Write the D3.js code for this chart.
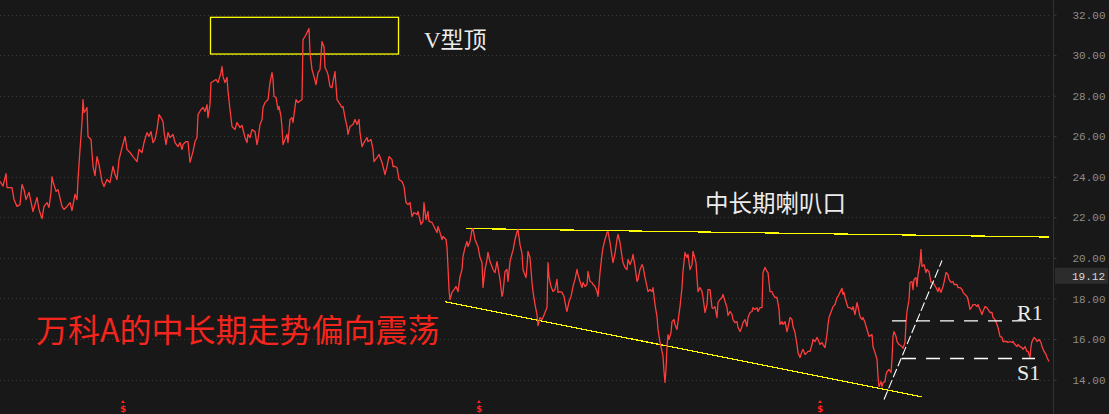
<!DOCTYPE html>
<html><head><meta charset="utf-8">
<script src="https://cdn.jsdelivr.net/npm/d3@7"></script>
<style>html,body{margin:0;padding:0;background:#181818;overflow:hidden}</style>
</head><body><svg id="c" width="1109" height="414"></svg>
<script>
// ---------- data ----------
const priceTicks = [14, 16, 18, 20, 22, 24, 26, 28, 30, 32];
const lastPrice = 19.12;
const dividendSessions = [123, 479, 820];
// [session, close]
const closeSeries = [
[0,23.78],[3,23.54],[6,24.16],[7,23.47],[12,23.47],[14,22.88],[17,22.54],[20,22.63],[22,23.62],[24,23.37],
[26,22.88],[29,23.23],[33,22.29],[37,22.98],[39,22.39],[42,21.94],[44,22.54],[47,22.73],[49,22.49],[51,23.23],
[52,24.01],[53,23.77],[56,23.28],[58,23.37],[62,22.54],[64,22.39],[67,22.54],[70,22.73],[72,22.34],[75,23.13],
[77,22.88],[78,23.87],[80,25.35],[82,26.68],[83,27.81],[84,27.17],[86,27.32],[87,27.42],[88,25.99],[91,25.84],
[93,24.51],[95,24.06],[97,25.0],[99,24.61],[102,23.77],[104,23.52],[107,23.87],[110,23.72],[113,24.51],[115,24.11],
[117,23.87],[119,24.85],[122,25.44],[125,25.99],[127,25.35],[130,25.2],[133,25.0],[137,24.75],[139,25.35],[142,25.2],
[144,25.69],[147,26.18],[149,25.99],[151,26.23],[153,25.69],[155,25.84],[157,26.33],[159,27.07],[161,26.92],[163,26.73],
[164,26.23],[166,25.59],[168,26.18],[170,25.94],[173,26.09],[175,25.69],[178,25.49],[180,25.69],[182,25.35],[183,25.59],
[186,25.74],[188,25.74],[190,24.71],[193,25.25],[195,25.74],[197,25.94],[198,27.07],[201,27.32],[203,27.42],[205,27.22],
[207,27.56],[208,26.92],[210,27.56],[211,28.65],[213,28.70],[216,28.80],[218,28.65],[221,29.14],[222,29.44],[223,28.94],
[225,28.65],[227,28.90],[228,28.21],[230,27.32],[232,26.48],[235,26.33],[237,26.68],[240,26.43],[242,26.53],[245,25.94],
[247,25.69],[248,26.09],[250,25.94],[252,26.33],[255,26.23],[257,25.59],[258,25.84],[260,26.58],[262,26.83],[263,27.42],
[265,27.66],[268,27.81],[270,28.65],[272,29.14],[273,28.80],[274,27.96],[276,27.91],[278,27.32],[279,27.47],[281,26.97],
[282,26.43],[283,25.59],[285,25.84],[287,26.09],[288,25.69],[290,26.83],[292,26.92],[293,26.68],[296,27.81],[298,27.66],
[302,27.81],[303,30.77],[305,30.92],[307,31.11],[309,31.31],[310,30.13],[312,29.29],[314,28.94],[316,28.55],[318,29.14],
[320,29.29],[322,30.67],[323,30.52],[324,30.42],[325,29.39],[327,29.19],[328,29.04],[330,28.45],[332,28.40],[333,28.70],
[335,29.19],[337,27.81],[339,27.66],[342,27.42],[343,27.47],[345,26.92],[347,26.48],[348,26.09],[350,26.48],[353,26.58],
[355,26.83],[357,26.58],[359,26.83],[360,26.18],[362,25.49],[364,25.69],[367,25.94],[368,25.74],[371,25.84],[373,25.35],
[374,24.75],[377,24.95],[379,25.10],[382,24.71],[383,24.51],[385,24.11],[387,24.51],[389,25.0],[392,24.85],[393,24.51],
[395,24.51],[397,24.46],[399,23.87],[402,23.77],[404,23.52],[406,22.73],[408,22.63],[410,22.73],[412,22.04],[414,22.24],
[417,22.14],[418,22.29],[421,21.65],[423,21.80],[424,22.73],[426,21.89],[428,22.29],[429,21.80],[432,21.75],[434,21.55],
[437,21.25],[438,21.55],[440,21.25],[442,20.91],[443,21.06],[446,20.91],[447,20.51],[448,19.53],[449,18.44],[450,17.95],
[452,18.30],[454,18.44],[456,18.59],[458,18.34],[460,19.08],[462,19.43],[463,20.07],[465,20.51],[467,20.81],[468,20.56],
[470,20.81],[472,21.40],[473,21.45],[475,20.91],[477,20.66],[478,20.56],[480,20.02],[482,19.77],[483,18.54],[485,19.43],
[487,19.92],[488,20.27],[490,19.82],[492,19.58],[493,19.43],[495,19.28],[497,19.82],[498,19.53],[500,18.94],[502,18.10],
[503,18.30],[505,19.33],[507,19.43],[508,18.84],[510,19.82],[512,20.22],[513,20.36],[515,20.91],[517,21.30],[518,21.40],
[520,20.66],[522,20.22],[523,19.43],[524,19.28],[526,19.03],[527,19.58],[528,20.32],[530,20.02],[532,18.79],[533,18.34],
[535,17.70],[537,17.21],[538,16.66],[540,17.06],[542,16.96],[543,17.06],[545,17.31],[547,17.55],[548,19.77],[549,19.08],
[551,18.59],[553,18.34],[555,18.44],[557,18.94],[558,18.30],[560,18.34],[562,18.30],[564,18.10],[566,17.55],[567,17.36],
[569,17.85],[571,18.10],[573,18.59],[575,18.94],[577,19.43],[578,19.18],[580,18.84],[582,18.54],[583,18.79],[585,18.59],
[587,18.69],[588,19.33],[590,18.84],[592,18.79],[593,18.69],[595,18.59],[597,18.34],[598,18.10],[600,19.28],[602,20.17],
[603,20.51],[605,20.91],[607,21.25],[608,21.30],[610,20.76],[612,20.07],[613,19.77],[615,20.22],[617,20.91],[618,21.16],
[620,20.76],[622,20.07],[623,19.77],[625,19.53],[627,19.43],[628,19.92],[630,19.67],[632,19.92],[633,20.17],[635,19.58],
[637,18.84],[638,18.94],[640,19.43],[642,19.67],[643,19.58],[645,19.03],[647,18.59],[648,18.34],[650,18.44],[652,18.34],
[653,18.54],[655,17.70],[657,17.11],[658,16.47],[660,15.83],[662,15.39],[663,15.14],[664,14.40],[665,13.86],[666,14.50],
[667,15.63],[668,16.22],[669,15.98],[671,16.32],[672,16.86],[674,16.96],[675,16.72],[677,16.47],[678,16.86],[680,17.60],
[682,18.54],[683,19.33],[685,20.27],[687,20.02],[688,20.17],[690,19.43],[692,19.67],[693,20.32],[696,19.77],[697,19.03],
[698,18.34],[700,18.54],[702,18.34],[703,18.05],[705,17.31],[707,17.70],[708,18.44],[710,18.44],[712,17.55],[713,17.50],
[715,17.60],[717,17.06],[718,17.80],[720,17.95],[722,18.05],[723,18.20],[725,17.85],[727,17.55],[728,17.16],[730,17.36],
[732,17.21],[733,16.96],[735,16.81],[737,16.86],[738,16.57],[740,16.37],[742,16.62],[743,16.81],[745,16.96],[747,16.62],
[748,17.06],[750,17.31],[752,17.36],[753,17.55],[755,17.46],[757,17.55],[758,17.36],[760,17.55],[762,17.55],[763,19.28],
[765,19.53],[767,19.33],[768,19.28],[770,18.34],[772,18.34],[773,18.20],[775,18.05],[777,18.05],[779,17.46],[780,16.72],
[782,16.86],[783,16.72],[785,16.86],[787,16.37],[788,16.57],[790,17.06],[792,16.96],[793,16.62],[795,16.32],[797,15.73],
[798,15.33],[800,15.09],[802,15.39],[803,15.49],[805,15.24],[807,15.33],[808,15.39],[810,15.39],[812,15.73],[813,15.98],
[815,15.88],[817,16.08],[818,15.98],[820,15.73],[822,15.83],[823,15.73],[825,15.58],[827,16.22],[828,16.72],[829,17.06],
[832,17.46],[833,17.60],[835,17.70],[837,18.05],[838,18.10],[840,18.30],[842,18.50],[843,18.20],[844,18.30],[845,18.05],
[847,17.70],[848,17.55],[850,17.55],[852,17.46],[853,17.60],[855,17.21],[857,17.80],[858,17.60],[860,17.11],[862,16.96],
[863,17.06],[865,16.81],[867,16.47],[869,16.13],[872,16.22],[873,15.63],[875,15.33],[877,14.99],[878,14.15],[879,13.65],
[881,13.90],[882,13.65],[883,13.84],[885,13.90],[886,14.25],[887,14.39],[889,14.50],[891,14.35],[892,14.99],[893,16.13],
[894,16.37],[896,16.13],[897,15.88],[899,15.73],[902,15.63],[903,15.54],[905,15.83],[906,16.81],[907,17.36],[909,17.95],
[910,18.79],[912,18.84],[913,18.44],[914,18.94],[916,19.03],[917,18.59],[918,19.18],[920,19.77],[921,20.42],[922,19.58],
[924,19.67],[926,19.28],[927,19.43],[929,19.33],[931,18.79],[933,18.79],[936,18.54],[938,18.34],[939,18.54],[941,18.30],
[943,18.59],[944,18.79],[946,19.28],[948,19.18],[949,18.94],[951,18.79],[953,18.84],[954,18.69],[957,18.69],[958,18.54],
[960,18.54],[962,18.44],[963,18.30],[965,18.20],[967,18.10],[968,17.95],[970,17.46],[972,17.60],[973,17.70],[975,17.70],
[977,17.60],[978,17.70],[980,17.46],[982,17.21],[983,17.36],[985,17.60],[987,17.55],[988,17.46],[990,17.31],[992,17.31],
[993,17.06],[995,16.96],[997,16.72],[998,16.57],[1000,16.13],[1002,16.08],[1003,15.88],[1005,15.88],[1007,15.88],[1008,15.83],
[1010,15.88],[1012,15.83],[1013,15.88],[1015,15.73],[1017,15.63],[1018,15.73],[1020,15.63],[1022,15.58],[1023,15.49],[1025,15.63],
[1027,15.39],[1028,15.39],[1030,15.09],[1031,15.63],[1032,15.88],[1034,16.08],[1036,15.98],[1037,15.88],[1039,15.98],[1041,15.83],
[1042,15.63],[1044,15.39],[1046,15.24],[1047,15.09],[1049,14.89]
];
// annotation geometry, in [session, price]
const upperTrend = [[466, 21.45], [1049, 21.03]];
const lowerTrend = [[445, 17.84], [922, 13.15]];
const riseTrend  = [[884, 13.02], [942, 19.87]];
const r1Level = [[892, 16.90], [1033, 16.90]];
const s1Level = [[902, 15.04], [1035, 15.04]];
const vTopBox = [[210, 31.89], [398, 30.08]];

// ---------- drawing ----------
const W = 1109, H = 414, plotRight = 1053;
const svg = d3.select('#c');
svg.append('rect').attr('width', W).attr('height', H).attr('fill', '#181818');

const x = d3.scaleLinear().domain([0, 1053]).range([0, plotRight]);
const y = d3.scaleLinear().domain([14, 32]).range([379.6, 14.6]);

// gridlines
svg.append('g').selectAll('line').data(priceTicks).join('line')
  .attr('x1', 0).attr('x2', plotRight - 2)
  .attr('y1', d => Math.round(y(d)) + 0.5).attr('y2', d => Math.round(y(d)) + 0.5)
  .attr('stroke', '#3a3a3a').attr('stroke-width', 1).attr('stroke-dasharray', '1,3');

// right axis
const axis = d3.axisRight(y).tickValues(priceTicks).tickSize(3).tickFormat(d3.format('.2f'));
const ag = svg.append('g').attr('transform', `translate(${plotRight + 0.5},0)`).call(axis);
ag.select('.domain').attr('stroke', '#303030').attr('d', `M0,0V${H}`);
ag.selectAll('.tick line').attr('stroke', '#3a3a3a');
ag.selectAll('.tick text').attr('fill', '#8c8c8c').attr('font-family', 'Liberation Mono, DejaVu Sans Mono, monospace')
  .attr('font-size', 11).attr('text-anchor', 'end').attr('x', 52);

// last price tag
const tag = svg.append('g');
tag.append('rect').attr('x', 1055).attr('y', y(lastPrice) - 8).attr('width', 53).attr('height', 16)
  .attr('fill', '#2c2c2c').attr('rx', 1);
tag.append('text').attr('x', 1105).attr('y', y(lastPrice)).attr('dy', '0.35em').attr('text-anchor', 'end')
  .attr('fill', '#d8d8d8').attr('font-family', 'Liberation Mono, DejaVu Sans Mono, monospace').attr('font-size', 11)
  .text(lastPrice.toFixed(2));

// yellow box
svg.append('rect')
  .attr('x', x(vTopBox[0][0]) + 0.5).attr('y', y(vTopBox[0][1]) + 0.5)
  .attr('width', x(vTopBox[1][0]) - x(vTopBox[0][0])).attr('height', y(vTopBox[1][1]) - y(vTopBox[0][1]))
  .attr('fill', 'none').attr('stroke', '#ffff00').attr('stroke-width', 1.3);

const seg = d3.line().x(d => x(d[0])).y(d => y(d[1]));
// trend lines
[upperTrend, lowerTrend].forEach(t => svg.append('path').attr('d', seg(t))
  .attr('stroke', '#ffff00').attr('stroke-width', 1.2).attr('fill', 'none').attr('shape-rendering', 'crispEdges'));

// price line
svg.append('path').datum(closeSeries).attr('d', seg)
  .attr('fill', 'none').attr('stroke', '#ff3d3d').attr('stroke-width', 1.3).attr('stroke-linejoin', 'round');

// white dashed lines
[r1Level, s1Level].forEach(t => svg.append('path').attr('d', seg(t))
  .attr('stroke', '#ffffff').attr('stroke-width', 1.3).attr('stroke-dasharray', '14,10').attr('fill', 'none'));
svg.append('path').attr('d', seg(riseTrend))
  .attr('stroke', '#ffffff').attr('stroke-width', 1.1).attr('stroke-dasharray', '9,3').attr('fill', 'none');

// dividend markers
const dv = svg.append('g').selectAll('g').data(dividendSessions).join('g')
  .attr('transform', d => `translate(${x(d)},0)`);
dv.append('path').attr('d', 'M-2,403 L0,400 L2,403 Z').attr('fill', '#ff2020');
dv.append('text').attr('y', 412).attr('text-anchor', 'middle').attr('fill', '#ff2020')
  .attr('font-family', 'DejaVu Sans, sans-serif').attr('font-weight', 'bold').attr('font-size', 9).text('$');

// text annotations
const serif = "'Liberation Serif', 'Noto Sans CJK SC', serif";
function label(txt, px, py, size, color, fam) {
  svg.append('text').attr('x', px).attr('y', py).attr('dy', '0.36em')
    .attr('fill', color).attr('font-size', size).attr('font-family', fam).text(txt);
}
label('V型顶', 424, 40, 23, '#ececec', serif);
label('中长期喇叭口', 705, 204, 23.5, '#ececec', serif);
label('R1', 1017, 312, 22, '#ececec', serif);
label('S1', 1017, 372, 22, '#ececec', serif);
label('万科A的中长期走势偏向震荡', 36, 330, 32, '#f4251c', "'Noto Sans CJK SC', sans-serif");
</script>
</body></html>
